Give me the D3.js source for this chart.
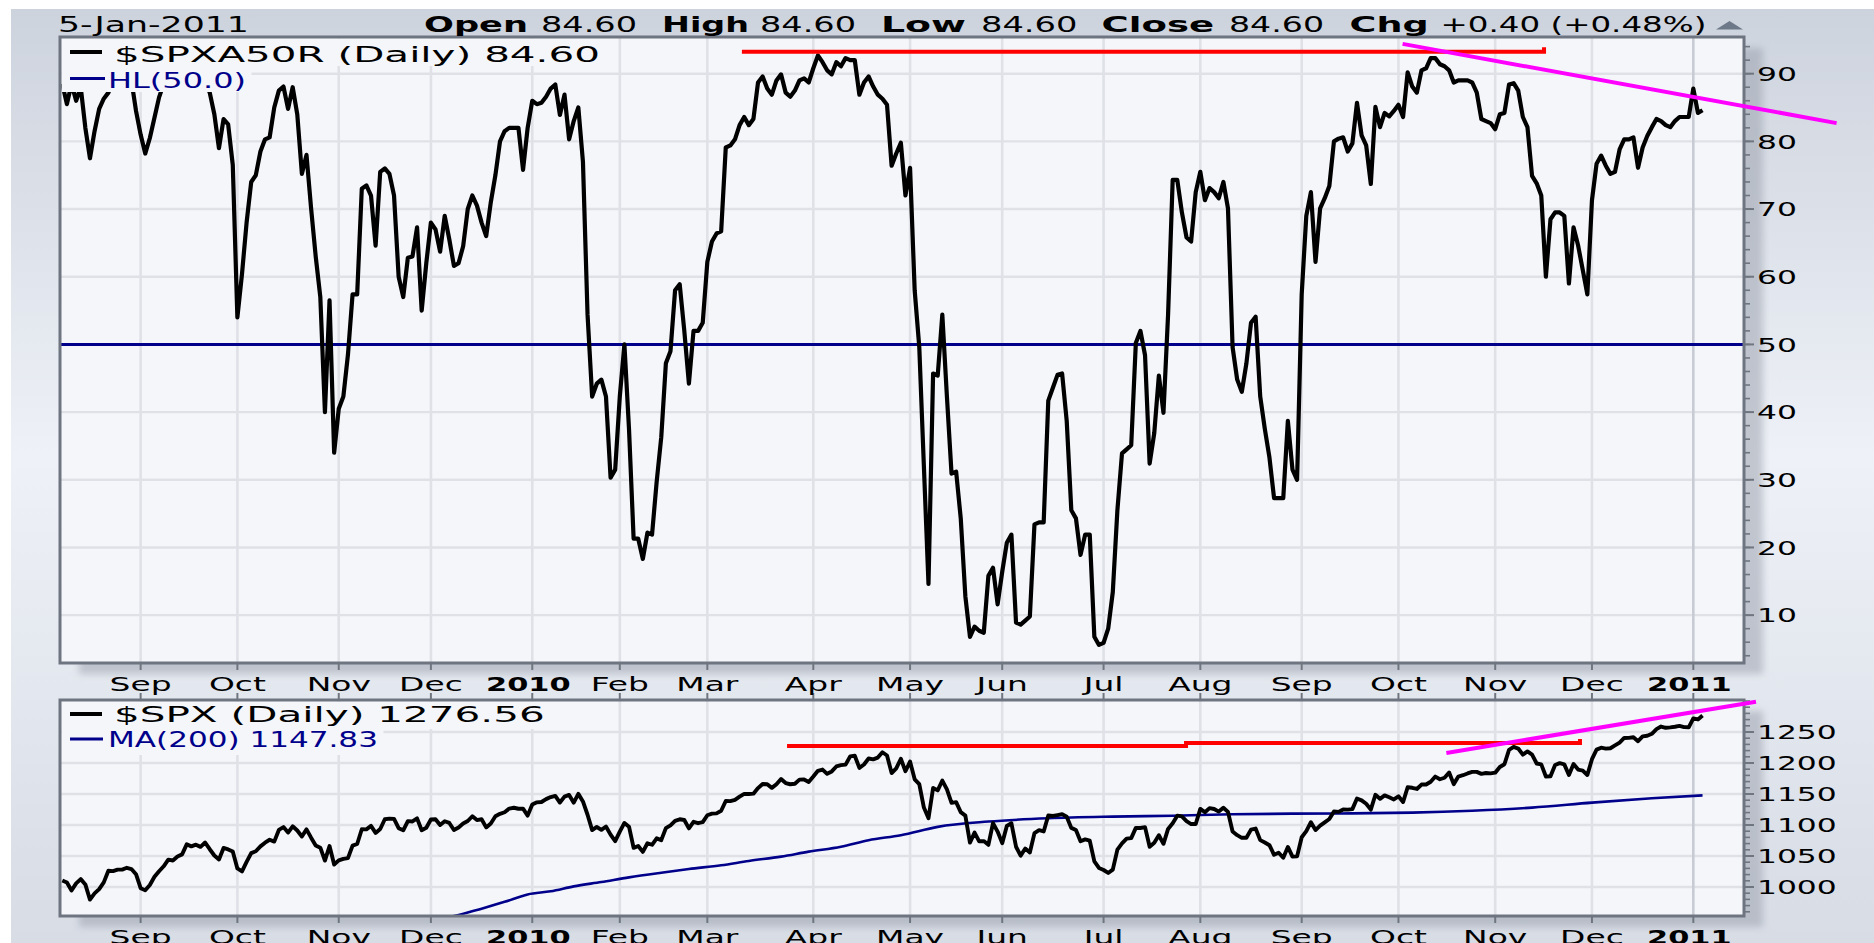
<!DOCTYPE html>
<html><head><meta charset="utf-8">
<script src="https://cdn.jsdelivr.net/npm/d3@7"></script>
<style>html,body{margin:0;padding:0;background:#fff;overflow:hidden}</style>
</head><body>
<svg id="chart" width="1874" height="943"></svg>
<script>
// ---------------- DATA ----------------
// x positions are trading-day indices; day 0 = 7-Aug-2009
const monthLabels   = ["Sep","Oct","Nov","Dec","2010","Feb","Mar","Apr","May","Jun","Jul","Aug","Sep","Oct","Nov","Dec","2011"];
const monthStartDay = [17,38,60,80,102,121,140,163,184,204,226,247,269,290,311,332,354];
const yearLabels    = ["2010","2011"];
const breadthTicks  = [10,20,30,40,50,60,70,80,90];
const spxTicks      = [1000,1050,1100,1150,1200,1250];
const hlLevel = 50;

// $SPXA50R daily (percent of S&P 500 stocks above 50-day MA)
const breadth = [
 88.5,85.5,88.5,86,88,82,77.5,81.5,84.8,86.3,87.2,89,90.5,89.5,91,89,84.5,                       // Aug 09
 81,78.2,80.5,83.5,86.5,88.5,90,91,92,90.5,91,92,91,90,89,87.2,84,79,83.3,82.5,76.5,            // Sep 09
 54,60.4,68,74,75,78.5,80.3,80.6,85,87.5,88.1,84.8,88,84,75.2,78,70.1,63,57,40,56.5,34,        // Oct 09
 40.5,42.3,48.5,57.4,57.4,73,73.5,72,64.6,75.5,76,75.2,72,60,57,62.8,63,67.3,55,62,            // Nov 09
 68,67,63.7,69,65.5,61.6,62,64.5,70,72,70.5,68,66,71,75,80,81.5,82,82,82,75.8,82,              // Dec 09
 86,85.5,85.7,86.6,87.8,88.4,83.9,86.9,80.3,83,85,77,54.4,42.3,44.2,44.8,42.3,30.3,31.5,       // Jan 10
 42.3,50,37.5,21.3,21.3,18.3,22.2,21.9,29.7,36.3,47.2,49,58,58.9,52,44.2,52,52,53.2,           // Feb 10
 62.2,65.2,66.4,66.7,79.1,79.4,80.3,82.4,83.6,82.4,83.3,88.7,89.6,87.8,86.9,89,89.9,87.2,86.6,87.5,89,89.3,88.7, // Mar 10
 90.8,92.7,91.7,90.5,89.9,91.7,91.1,92.3,92,92,86.9,88.7,89.6,88.1,86.9,86.3,85.4,76.4,78.2,79.8,72, // Apr 10
 76.1,58,49.6,32,14.6,45.7,45.4,54.4,42.3,30.9,31.2,24.3,12.8,6.8,8.3,7.7,7.4,15.8,17,11.6,    // May 10
 16.4,20.7,21.9,8.9,8.6,9.2,9.8,23.4,23.7,23.7,41.7,43.6,45.5,45.7,38.7,25.5,24.3,18.9,21.9,21.9,6.8,5.6, // Jun 10
 5.9,8,13.4,25.5,33.9,34.5,35.1,50.2,52,48.4,32.4,36.9,45.4,39.9,54.4,74.3,74.3,69.5,65.8,65.2,72.5, // Jul 10
 75.5,71.3,73.1,72.5,71.6,74,70.1,49.6,44.8,43,47.2,53.2,54.1,42.3,37.5,33.3,27.3,27.3,27.3,38.7,31.5,30, // Aug 10
 57.4,69,72.5,62.2,70.1,71.6,73.4,80,80.4,80.6,78.5,79.7,85.7,80.9,79.4,73.7,85.1,82.1,84.2,83.7,84.5, // Sep 10
 85.4,83.6,90.2,88.1,87.2,90.5,90.8,92.3,92.3,91.4,91.1,90.5,88.7,89,89,89,88.7,87.2,83.3,83,82.7, // Oct 10
 81.8,84,84.2,88.4,88.6,87.5,83.6,82.1,74.9,73.8,72,60,68.5,69.5,69.5,69,59,67.3,64.6,61,57.4,  // Nov 10
 71.3,76.7,77.9,76.4,75.2,75.5,78.8,80.3,80.3,80.6,76.1,79.1,80.8,82.1,83.3,83,82.4,82.1,83,83.6,83.6,83.6, // Dec 10
 87.8,84.2,84.6                                                                                   // Jan 11
];

// $SPX daily close
const spxClose = [
 1010.5,1007.1,994.4,1005.8,1012.7,1004.1,979.7,989.7,996.5,1007.4,1026.1,1025.6,1028.0,1028.1,1031.0,1028.9,1020.6, // Aug 09
 998.0,994.8,1003.2,1016.4,1025.4,1033.4,1044.1,1042.7,1049.3,1052.6,1068.8,1065.5,1068.3,1064.7,1071.7,1060.9,1050.8,1044.4,1063.0,1060.6,1057.1, // Sep 09
 1029.9,1025.2,1040.5,1054.7,1057.6,1065.5,1071.5,1076.2,1073.2,1092.0,1096.6,1087.7,1097.9,1091.1,1081.4,1092.9,1079.6,1067.0,1063.4,1042.6,1066.1,1036.2, // Oct 09
 1042.9,1045.4,1046.5,1066.6,1069.3,1093.1,1093.0,1098.5,1087.2,1093.5,1109.3,1110.3,1109.8,1094.9,1091.4,1106.2,1105.7,1110.6,1091.5,1095.6, // Nov 09
 1108.9,1109.2,1099.9,1106.0,1103.3,1091.9,1096.0,1102.4,1106.4,1114.1,1107.9,1109.2,1096.1,1102.5,1114.1,1118.0,1120.6,1126.5,1127.8,1126.2,1126.4,1115.1, // Dec 09
 1133.0,1136.5,1137.1,1141.7,1145.0,1147.0,1136.2,1145.7,1148.5,1136.0,1150.2,1138.0,1116.5,1091.8,1096.8,1092.2,1097.5,1084.5,1073.9, // Jan 10
 1089.2,1103.3,1097.3,1063.1,1066.2,1056.7,1070.5,1068.1,1078.5,1075.5,1094.9,1099.5,1106.8,1109.2,1108.0,1094.6,1105.2,1102.9,1104.5, // Feb 10
 1115.7,1118.3,1118.8,1123.0,1138.7,1138.5,1140.5,1145.6,1150.2,1150.0,1150.5,1159.5,1166.2,1165.8,1159.9,1165.8,1174.2,1167.7,1165.7,1166.6,1173.2,1173.3,1169.4, // Mar 10
 1178.1,1187.4,1189.4,1182.5,1186.4,1194.4,1196.5,1197.3,1210.7,1211.7,1192.1,1197.5,1207.2,1205.9,1208.7,1217.3,1212.1,1183.7,1191.4,1206.8,1186.7, // Apr 10
 1202.3,1173.6,1165.9,1128.2,1110.9,1159.7,1155.8,1171.7,1157.4,1135.7,1136.9,1120.8,1115.1,1071.6,1087.7,1073.7,1074.0,1068.0,1103.1,1089.4, // May 10
 1070.7,1098.4,1102.8,1064.9,1050.5,1062.0,1055.7,1086.8,1091.6,1089.6,1115.2,1114.6,1116.0,1117.5,1113.2,1095.3,1092.0,1073.7,1076.8,1074.6,1041.2,1030.7, // Jun 10
 1027.4,1022.6,1028.1,1060.3,1070.3,1078.0,1078.8,1095.3,1095.2,1096.5,1064.9,1071.3,1083.5,1069.6,1093.7,1102.7,1115.0,1113.8,1106.1,1101.5,1101.6, // Jul 10
 1125.9,1120.5,1127.2,1125.8,1121.6,1127.8,1121.1,1089.5,1083.6,1079.3,1079.4,1092.5,1094.2,1075.6,1071.7,1067.4,1051.9,1055.3,1047.2,1064.6,1048.9,1049.3, // Aug 10
 1080.3,1090.1,1104.5,1091.8,1098.9,1104.2,1109.6,1121.9,1121.1,1125.1,1124.7,1125.6,1142.7,1139.8,1134.3,1124.8,1148.7,1142.2,1147.7,1144.7,1141.2, // Sep 10
 1146.2,1137.0,1160.8,1160.0,1158.1,1165.2,1165.3,1169.8,1178.1,1173.8,1176.2,1184.7,1165.9,1178.2,1180.3,1183.1,1185.6,1185.6,1182.5,1183.8,1183.3, // Oct 10
 1184.4,1193.6,1198.0,1221.1,1225.9,1223.3,1213.4,1218.7,1213.5,1199.2,1197.8,1178.3,1178.6,1196.7,1199.7,1197.8,1180.7,1198.4,1189.4,1187.8,1180.6, // Nov 10
 1206.1,1221.5,1224.7,1223.1,1223.8,1228.3,1233.0,1240.4,1240.5,1241.6,1235.2,1242.9,1243.9,1247.1,1254.6,1258.8,1256.8,1257.5,1258.5,1259.8,1257.9,1257.6, // Dec 10
 1271.9,1270.2,1276.56 // Jan 11
];

// MA(200) of $SPX, read at sample days
const maDay   = [80,85,91,96,101,106,111,117,123,130,136,143,149,156,162,169,175,182,190,201,214,228,241,254,267,280,293,306,319,332,345,356];
const maValue = [942,953,965,976,988,993,1001,1008,1015.5,1023,1029,1035,1042,1049,1057,1065,1075.5,1083.5,1097,1105.5,1110.8,1113.5,1115,1117.2,1118.3,1118.8,1120,1123,1128,1136,1143,1147.8];

// hand-drawn trendlines, in [day, value]
const topRed      = [[147.5,93.25],[321.6,93.25],[321.6,93.9]];
const topMagenta  = [[290.9,94.4],[385.1,82.7]];
const botRed      = [[157.3,1227.4],[243.9,1227.4],[243.9,1232.3],[329.4,1232.3],[329.4,1238.5]];
const botMagenta  = [[300.4,1216.1],[367.6,1298.9]];

const headerTexts = ["5-Jan-2011","Open","84.60","High","84.60","Low","84.60","Close","84.60","Chg","+0.40 (+0.48%)"];
const topLegend   = ["$SPXA50R (Daily) 84.60","HL(50.0)"];
const botLegend   = ["$SPX (Daily) 1276.56","MA(200) 1147.83"];

// ---------------- DRAW ----------------
const W = 1874, H = 943;
const svg = d3.select("#chart");
const defs = svg.append("defs");
const FONT = "'DejaVu Sans', Verdana, sans-serif";
const NAVY = "#00008b";
const PLOTBG = "#f4f6fa";

const bgGrad = defs.append("linearGradient").attr("id","bgGrad").attr("x1",0).attr("y1",0).attr("x2",0).attr("y2",1);
bgGrad.append("stop").attr("offset","0%").attr("stop-color","#cdd3dd");
bgGrad.append("stop").attr("offset","48%").attr("stop-color","#eef1f7");
bgGrad.append("stop").attr("offset","100%").attr("stop-color","#d7dce5");
svg.append("rect").attr("x",11).attr("y",9).attr("width",W-11).attr("height",H-9).attr("fill","url(#bgGrad)");

const sh = defs.append("filter").attr("id","shadow").attr("x","-5%").attr("y","-5%").attr("width","110%").attr("height","110%");
sh.append("feGaussianBlur").attr("stdDeviation",3.5);

function stext(parent, str, x, y, o) {
  o = o || {};
  const t = parent.append("text").text(str)
    .attr("font-family", FONT)
    .attr("font-size", o.size || 19.6)
    .attr("font-weight", o.bold ? "bold" : "normal")
    .attr("fill", o.fill || "#000")
    .attr("text-anchor", o.anchor || "start");
  const w = t.node().getComputedTextLength() || 1;
  const sx = o.width ? o.width / w : (o.sx || 1.6);
  t.attr("transform", `translate(${x},${y}) scale(${sx},1)`);
  return t;
}

const X0 = 60, X1 = 1744;
const x = d3.scaleLinear().domain([-0.5, 365]).range([X0, X1]);
const yTop = d3.scaleLinear().domain([2.93, 95.42]).range([663, 37]);
const yBot = d3.scaleLinear().domain([953.2, 1301.6]).range([916, 700]);

function panel(id, y, ticks, minorStep, labelFmt) {
  const [yb, yt] = y.range();
  const g = svg.append("g");
  g.append("rect").attr("x", X0+19).attr("y", yt+11).attr("width", X1-X0).attr("height", yb-yt)
    .attr("fill", "#9ea4b0").attr("opacity", 0.55).attr("filter", "url(#shadow)");
  g.append("rect").attr("x", X0).attr("y", yt).attr("width", X1-X0).attr("height", yb-yt).attr("fill", PLOTBG);
  defs.append("clipPath").attr("id", "clip"+id).append("rect")
    .attr("x", X0).attr("y", yt).attr("width", X1-X0).attr("height", yb-yt);
  g.selectAll(".hg").data(ticks).enter().append("line")
    .attr("x1", X0).attr("x2", X1).attr("y1", d=>y(d)).attr("y2", d=>y(d))
    .attr("stroke", "#dfe1e7").attr("stroke-width", 2.4);
  g.selectAll(".vg").data(monthStartDay).enter().append("line")
    .attr("x1", d=>x(d)).attr("x2", d=>x(d)).attr("y1", yt).attr("y2", yb)
    .attr("stroke", (d,i)=> monthLabels[i] === "2011" ? "#c8cbd3" : "#dfe1e7")
    .attr("stroke-width", 2.6);
  const [d0, d1] = y.domain();
  const minors = d3.range(Math.ceil(d0/minorStep)*minorStep, d1, minorStep);
  g.selectAll(".mt").data(minors).enter().append("line")
    .attr("x1", X1).attr("x2", X1+6).attr("y1", d=>y(d)).attr("y2", d=>y(d))
    .attr("stroke", "#70767f").attr("stroke-width", 1.6);
  g.selectAll(".Mt").data(ticks).enter().append("line")
    .attr("x1", X1).attr("x2", X1+10).attr("y1", d=>y(d)).attr("y2", d=>y(d))
    .attr("stroke", "#70767f").attr("stroke-width", 2);
  ticks.forEach(t => stext(g, labelFmt(t), 1757, y(t)+7.2, {size:19.6, sx:1.6}));
  g.selectAll(".xt").data(monthStartDay).enter().append("line")
    .attr("x1", d=>x(d)).attr("x2", d=>x(d)).attr("y1", yb).attr("y2", yb+7)
    .attr("stroke", "#70767f").attr("stroke-width", 2);
  g.selectAll(".xt2").data(monthStartDay).enter().append("line")
    .attr("x1", d=>x(d)).attr("x2", d=>x(d)).attr("y1", yb+30).attr("y2", yb+37)
    .attr("stroke", "#70767f").attr("stroke-width", 2);
  monthLabels.forEach((m,i) => {
    const isYear = yearLabels.includes(m);
    stext(g, m, x(monthStartDay[i]) - (isYear ? 4 : 0), yb+28, {bold:isYear, anchor:"middle", size:19.6, sx: isYear ? 1.55 : 1.68});
  });
  return g;
}

const gTop = panel("T", yTop, breadthTicks, 2, d=>String(d));
const gBot = panel("B", yBot, spxTicks, 10, d=>String(d));

// top series
const plotT = gTop.append("g").attr("clip-path", "url(#clipT)");
plotT.append("line").attr("x1", X0).attr("x2", X1+6).attr("y1", yTop(hlLevel)).attr("y2", yTop(hlLevel))
  .attr("stroke", NAVY).attr("stroke-width", 3);
plotT.append("path").datum(breadth)
  .attr("d", d3.line().x((d,i)=>x(i)).y(d=>yTop(d)))
  .attr("fill","none").attr("stroke","#000").attr("stroke-width",4.2).attr("stroke-linejoin","round");

// bottom series
const plotB = gBot.append("g").attr("clip-path", "url(#clipB)");
plotB.append("path").datum(maDay.map((d,i)=>[d, maValue[i]]))
  .attr("d", d3.line().x(d=>x(d[0])).y(d=>yBot(d[1])).curve(d3.curveMonotoneX))
  .attr("fill","none").attr("stroke",NAVY).attr("stroke-width",2.6);
plotB.append("path").datum(spxClose)
  .attr("d", d3.line().x((d,i)=>x(i)).y(d=>yBot(d)))
  .attr("fill","none").attr("stroke","#000").attr("stroke-width",3.9).attr("stroke-linejoin","round");

// legend masks
function legendMask(g, y0, widths) {
  const rowTops = [y0+1.5, y0+29, y0+55];
  widths.forEach((w,i) => {
    g.append("rect").attr("x", X0+1.5).attr("y", rowTops[i]).attr("width", w).attr("height", rowTops[i+1]-rowTops[i])
      .attr("fill", PLOTBG);
  });
}
legendMask(gTop, 37, [545, 190]);
legendMask(gBot, 700, [490, 322]);

// panel borders
[yTop, yBot].forEach(y => {
  const [yb, yt] = y.range();
  svg.append("rect").attr("x", X0).attr("y", yt).attr("width", X1-X0).attr("height", yb-yt)
    .attr("fill","none").attr("stroke","#6f7580").attr("stroke-width",3);
});

// legend content
function dash(y, color, w) {
  svg.append("line").attr("x1", 70).attr("x2", 70+w).attr("y1", y).attr("y2", y)
    .attr("stroke", color).attr("stroke-width", color === "#000" ? 4 : 3.2);
}
dash(52, "#000", 32);
stext(svg, topLegend[0], 114, 61.5, {width:486, size:20.5});
dash(78.5, NAVY, 35);
stext(svg, topLegend[1], 108, 88, {width:138, size:20.5, fill:NAVY});
dash(714, "#000", 32);
stext(svg, botLegend[0], 114, 721.7, {width:431, size:20.5});
dash(739, NAVY, 33);
stext(svg, botLegend[1], 108, 747, {width:270, size:20.5, fill:NAVY});

// header
const hx = [58,424,541,662,760,881,981,1101.6,1229,1349.6,1440.5];
const hw = [191,104,96,87,96,85,96.5,112.5,95,79,266];
const hb = [false,true,false,true,false,true,false,true,false,true,false];
headerTexts.forEach((t,i) => stext(svg, t, hx[i], 31.7, {width:hw[i], bold:hb[i], size:20.5}));
svg.append("path").attr("d","M1716,29.5L1743,29.5L1729.5,21Z").attr("fill","#6d7888");

// trendlines
const lineT = d3.line().x(d=>x(d[0])).y(d=>yTop(d[1]));
const lineB = d3.line().x(d=>x(d[0])).y(d=>yBot(d[1]));
svg.append("path").attr("d", lineT(topRed)).attr("fill","none").attr("stroke","#ff0000").attr("stroke-width",4);
svg.append("path").attr("d", lineT(topMagenta)).attr("fill","none").attr("stroke","#ff00ff").attr("stroke-width",4);
svg.append("path").attr("d", lineB(botRed)).attr("fill","none").attr("stroke","#ff0000").attr("stroke-width",4);
svg.append("path").attr("d", lineB(botMagenta)).attr("fill","none").attr("stroke","#ff00ff").attr("stroke-width",4);
</script>
</body></html>
